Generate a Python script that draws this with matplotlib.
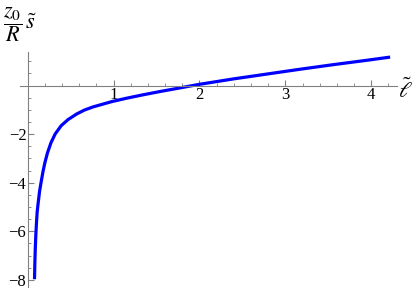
import matplotlib
matplotlib.use("Agg")
import matplotlib.pyplot as plt
from matplotlib.ticker import FixedLocator, MultipleLocator

# valores
ell = [0.079, 0.083, 0.088, 0.095, 0.102, 0.11, 0.121, 0.138, 0.157, 0.18,
       0.20, 0.23, 0.27, 0.32, 0.39, 0.47, 0.57, 0.66, 0.76, 0.87, 0.98,
       1.14, 1.345, 1.55, 1.73, 2.0, 2.39, 2.78, 3.17, 3.56, 3.95, 4.22]
s_val = [-7.97, -7.3, -6.7, -6.1, -5.64, -5.2, -4.85, -4.35, -3.95, -3.5,
         -3.17, -2.77, -2.36, -1.99, -1.65, -1.40, -1.17, -1.01, -0.88, -0.77, -0.66,
         -0.53, -0.38, -0.24, -0.125, 0.05, 0.27, 0.47, 0.67, 0.86, 1.04, 1.17]
x_ticks = [1, 2, 3, 4]
y_ticks = [-8, -6, -4, -2]

plt.rcParams['mathtext.fontset'] = 'stix'
plt.rcParams['font.family'] = 'Liberation Serif'

W, H = 415, 290
fig = plt.figure(figsize=(W / 100, H / 100), dpi=100)
ax = fig.add_axes([20 / W, 3 / H, (397 - 20) / W, (287 - 52) / H])

ax.plot(ell, s_val, color='#0000ff', lw=2.3, solid_capstyle='butt',
        solid_joinstyle='round')

ax.set_xlim(-0.09, 4.30)
ax.set_ylim(-8.29, 1.38)

gray = '#808080'
for side in ['top', 'right']:
    ax.spines[side].set_visible(False)
ax.spines['left'].set_position(('data', 0))
ax.spines['bottom'].set_position(('data', 0))
for side in ['left', 'bottom']:
    ax.spines[side].set_color(gray)
    ax.spines[side].set_linewidth(0.8)

ax.xaxis.set_major_locator(FixedLocator(x_ticks))
ax.xaxis.set_minor_locator(MultipleLocator(0.2))
ax.yaxis.set_major_locator(FixedLocator(y_ticks))
ax.yaxis.set_minor_locator(MultipleLocator(0.5))
ax.set_xticklabels([str(t) for t in x_ticks])
ax.set_yticklabels(['\u2212' + str(-t) for t in y_ticks])

ax.tick_params(axis='x', which='major', direction='in', length=4, width=0.8,
               color=gray, labelsize=12, pad=1)
ax.tick_params(axis='x', which='minor', direction='in', length=2.5, width=0.6, color=gray)
ax.tick_params(axis='y', which='major', direction='in', length=4, width=0.8,
               color=gray, labelsize=12, pad=1)
ax.tick_params(axis='y', which='minor', direction='in', length=2.5, width=0.6, color=gray)

# etiquetas de los ejes
fig.text(405 / W, 1 - 91 / H, r'$\tilde{\ell}$', fontsize=16, ha='center', va='center')
fig.text(3 / W, 1 - 25 / H, r'$\dfrac{z_0}{R}\,\tilde{s}$', fontsize=16, ha='left', va='center')

fig.savefig('out.png', dpi=100)
